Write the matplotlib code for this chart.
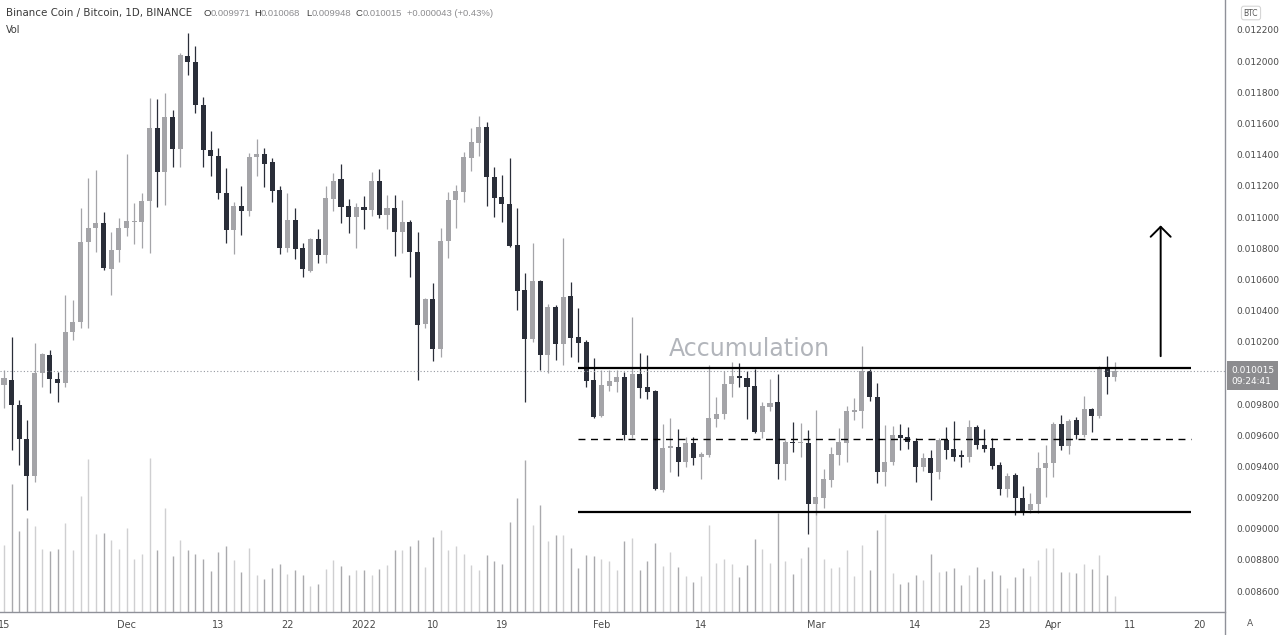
import numpy as np
import pandas as pd
import matplotlib
matplotlib.use("Agg")
import matplotlib.pyplot as plt
from matplotlib.lines import Line2D

# BNB/BTC daily candles, 2021-11-15 .. 2022-04-09
start = "2021-11-15"
open_ = [0.009922, 0.009954, 0.009794, 0.009576, 0.009338, 0.009999, 0.010115, 0.009961, 0.009935, 0.010262,
         0.010326, 0.010840, 0.010930, 0.010962, 0.010666, 0.010788, 0.010930, 0.010968, 0.010968, 0.011103,
         0.011571, 0.011289, 0.011642, 0.011436, 0.012033, 0.011995, 0.011719, 0.011430, 0.011391, 0.011154,
         0.010917, 0.011071, 0.011039, 0.011385, 0.011404, 0.011353, 0.011173, 0.010801, 0.010981, 0.010801,
         0.010654, 0.010859, 0.010756, 0.011116, 0.011244, 0.011071, 0.011000, 0.011064, 0.011045, 0.011231,
         0.011013, 0.011058, 0.010904, 0.010968, 0.010776, 0.010313, 0.010474, 0.010153, 0.010846, 0.011109,
         0.011160, 0.011379, 0.011475, 0.011578, 0.011257, 0.011128, 0.011083, 0.010820, 0.010532, 0.010217,
         0.010590, 0.010115, 0.010423, 0.010185, 0.010494, 0.010230, 0.010198, 0.009954, 0.009723, 0.009916,
         0.009942, 0.009974, 0.009601, 0.009993, 0.009909, 0.009884, 0.009248, 0.009518, 0.009524, 0.009428,
         0.009550, 0.009460, 0.009473, 0.009704, 0.009736, 0.009929, 0.009980, 0.009967, 0.009916, 0.009621,
         0.009781, 0.009813, 0.009415, 0.009556, 0.009548, 0.009550, 0.009159, 0.009197, 0.009313, 0.009473,
         0.009550, 0.009749, 0.009755, 0.010012, 0.009845, 0.009364, 0.009428, 0.009601, 0.009588, 0.009563,
         0.009396, 0.009454, 0.009364, 0.009569, 0.009511, 0.009473, 0.009460, 0.009653, 0.009537, 0.009518,
         0.009409, 0.009255, 0.009344, 0.009197, 0.009120, 0.009159, 0.009389, 0.009421, 0.009672, 0.009530,
         0.009698, 0.009601, 0.009768, 0.009723, 0.010031, 0.009971]
high = [0.010018, 0.010230, 0.009826, 0.009698, 0.010192, 0.010128, 0.010147, 0.010006, 0.010500, 0.010468,
        0.011058, 0.011250, 0.011302, 0.011032, 0.010904, 0.010994, 0.011404, 0.011090, 0.011154, 0.011764,
        0.011757, 0.011796, 0.011687, 0.012052, 0.012181, 0.012097, 0.011770, 0.011552, 0.011443, 0.011314,
        0.011096, 0.011199, 0.011411, 0.011501, 0.011443, 0.011379, 0.011199, 0.011154, 0.011058, 0.010833,
        0.010865, 0.010923, 0.011199, 0.011282, 0.011340, 0.011116, 0.011090, 0.011135, 0.011289, 0.011308,
        0.011141, 0.011141, 0.011109, 0.010981, 0.010904, 0.010481, 0.010577, 0.010930, 0.011160, 0.011206,
        0.011417, 0.011571, 0.011648, 0.011610, 0.011321, 0.011270, 0.011379, 0.011058, 0.010641, 0.010833,
        0.010596, 0.010442, 0.010436, 0.010865, 0.010583, 0.010416, 0.010211, 0.010096, 0.010018, 0.010018,
        0.010018, 0.010006, 0.010358, 0.010127, 0.010115, 0.009890, 0.009672, 0.009710, 0.009640, 0.009588,
        0.009588, 0.009492, 0.010050, 0.009845, 0.010012, 0.010070, 0.010063, 0.010012, 0.010025, 0.009813,
        0.009961, 0.009993, 0.009569, 0.009685, 0.009678, 0.009633, 0.009762, 0.009383, 0.009524, 0.009646,
        0.009787, 0.009839, 0.010172, 0.010025, 0.009935, 0.009665, 0.009659, 0.009672, 0.009653, 0.009582,
        0.009486, 0.009505, 0.009582, 0.009653, 0.009691, 0.009505, 0.009698, 0.009665, 0.009640, 0.009582,
        0.009428, 0.009357, 0.009357, 0.009274, 0.009229, 0.009492, 0.009537, 0.009685, 0.009730, 0.009704,
        0.009717, 0.009852, 0.009775, 0.010044, 0.010108, 0.010068]
low = [0.009774, 0.009505, 0.009409, 0.009120, 0.009300, 0.009909, 0.009871, 0.009813, 0.009909, 0.010211,
       0.010288, 0.010288, 0.010776, 0.010660, 0.010500, 0.010711, 0.010878, 0.010827, 0.010801, 0.010769,
       0.011064, 0.011077, 0.011321, 0.011321, 0.011911, 0.011667, 0.011321, 0.011263, 0.011116, 0.010833,
       0.010763, 0.010885, 0.011007, 0.011263, 0.011193, 0.011096, 0.010763, 0.010776, 0.010730, 0.010615,
       0.010647, 0.010705, 0.010705, 0.011039, 0.010962, 0.010898, 0.010801, 0.010923, 0.011007, 0.010994,
       0.010923, 0.010750, 0.010769, 0.010615, 0.009954, 0.010288, 0.010076, 0.010101, 0.010737, 0.010930,
       0.011096, 0.011295, 0.011391, 0.011071, 0.011000, 0.010968, 0.010808, 0.010403, 0.009813, 0.010198,
       0.010018, 0.009999, 0.010083, 0.010050, 0.010101, 0.010070, 0.009909, 0.009710, 0.009717, 0.009884,
       0.009877, 0.009569, 0.009582, 0.009839, 0.009832, 0.009248, 0.009236, 0.009363, 0.009338, 0.009396,
       0.009409, 0.009319, 0.009460, 0.009653, 0.009704, 0.009845, 0.009909, 0.009704, 0.009614, 0.009582,
       0.009755, 0.009319, 0.009313, 0.009492, 0.009460, 0.008966, 0.009088, 0.009133, 0.009268, 0.009409,
       0.009428, 0.009698, 0.009646, 0.009820, 0.009293, 0.009274, 0.009409, 0.009505, 0.009511, 0.009300,
       0.009370, 0.009184, 0.009319, 0.009447, 0.009434, 0.009396, 0.009428, 0.009511, 0.009492, 0.009383,
       0.009216, 0.009203, 0.009088, 0.009088, 0.009101, 0.009101, 0.009203, 0.009331, 0.009505, 0.009479,
       0.009576, 0.009588, 0.009620, 0.009710, 0.009864, 0.009948]
close = [0.009967, 0.009794, 0.009576, 0.009338, 0.009999, 0.010121, 0.009961, 0.009935, 0.010262, 0.010326,
         0.010840, 0.010930, 0.010962, 0.010673, 0.010788, 0.010930, 0.010975, 0.010975, 0.011103, 0.011571,
         0.011289, 0.011642, 0.011436, 0.012040, 0.011995, 0.011719, 0.011430, 0.011391, 0.011154, 0.010917,
         0.011071, 0.011039, 0.011385, 0.011404, 0.011340, 0.011167, 0.010801, 0.010981, 0.010795, 0.010666,
         0.010859, 0.010756, 0.011122, 0.011231, 0.011064, 0.011000, 0.011064, 0.011045, 0.011231, 0.011013,
         0.011058, 0.010904, 0.010968, 0.010776, 0.010307, 0.010474, 0.010153, 0.010846, 0.011109, 0.011167,
         0.011385, 0.011481, 0.011578, 0.011257, 0.011122, 0.011083, 0.010814, 0.010525, 0.010217, 0.010590,
         0.010115, 0.010423, 0.010185, 0.010487, 0.010224, 0.010192, 0.009948, 0.009717, 0.009922, 0.009948,
         0.009974, 0.009601, 0.009993, 0.009903, 0.009877, 0.009255, 0.009518, 0.009530, 0.009428, 0.009550,
         0.009454, 0.009479, 0.009710, 0.009736, 0.009929, 0.009980, 0.009967, 0.009909, 0.009621, 0.009787,
         0.009807, 0.009415, 0.009556, 0.009550, 0.009553, 0.009159, 0.009204, 0.009319, 0.009479, 0.009556,
         0.009755, 0.009762, 0.010012, 0.009845, 0.009364, 0.009428, 0.009601, 0.009582, 0.009556, 0.009396,
         0.009454, 0.009357, 0.009569, 0.009505, 0.009460, 0.009460, 0.009653, 0.009537, 0.009511, 0.009402,
         0.009255, 0.009338, 0.009197, 0.009114, 0.009159, 0.009389, 0.009421, 0.009672, 0.009530, 0.009691,
         0.009601, 0.009768, 0.009723, 0.010031, 0.009972, 0.010015]
volume = [200, 385, 242, 283, 258, 190, 182, 190, 267, 187, 348, 458, 235, 238, 217, 190, 253, 160, 173, 462,
          185, 312, 167, 216, 185, 175, 158, 122, 180, 197, 155, 120, 193, 112, 100, 132, 143, 113, 125, 110,
          77, 85, 128, 155, 137, 112, 125, 125, 112, 130, 140, 185, 185, 198, 217, 135, 225, 245, 185, 197,
          173, 140, 125, 172, 152, 145, 270, 342, 455, 262, 322, 212, 230, 230, 193, 132, 172, 167, 160, 153,
          125, 212, 223, 125, 152, 207, 137, 180, 135, 108, 90, 108, 262, 148, 160, 145, 105, 142, 218, 190,
          148, 298, 152, 115, 162, 195, 345, 158, 132, 135, 185, 108, 202, 125, 247, 295, 117, 85, 90, 112,
          95, 175, 120, 122, 132, 80, 112, 135, 100, 122, 110, 72, 105, 132, 108, 155, 192, 192, 120, 120,
          118, 143, 130, 172, 112, 48]

tick_dates = ["2021-11-15", "2021-12-01", "2021-12-13", "2021-12-22", "2022-01-01", "2022-01-10",
              "2022-01-19", "2022-02-01", "2022-02-14", "2022-03-01", "2022-03-14", "2022-03-23",
              "2022-04-01", "2022-04-11", "2022-04-20"]
tick_labels = ["15", "Dec", "13", "22", "2022", "10", "19", "Feb", "14", "Mar", "14", "23", "Apr", "11", "20"]
price_ticks = np.arange(0.0086, 0.01221, 0.0002)

# drawn annotations
resistance = 0.010034
midline = 0.009573
support = 0.009109
zone_start, zone_end = "2022-01-29", "2022-04-19"
arrow_date = "2022-04-15"
arrow_from, arrow_to = 0.010089, 0.010964

o = np.array(open_)
h = np.array(high)
l = np.array(low)
c = np.array(close)
v = np.array(volume)
dates = pd.date_range(start, periods=len(c), freq="D")
x = np.arange(len(c))


def day(d):
    return (pd.Timestamp(d) - dates[0]).days


UP, DOWN = "#a4a4a8", "#2a2e39"
W, H = 1280, 635

fig = plt.figure(figsize=(W / 100, H / 100), dpi=100)
fig.patch.set_facecolor("white")
rect = [0, 23 / H, 1225 / W, 612 / H]
ax = fig.add_axes(rect)
axv = fig.add_axes(rect, sharex=ax)
ax.set_zorder(2)
axv.set_zorder(1)
ax.patch.set_visible(False)

up = c >= o
cols = np.where(up, UP, DOWN)

# volume underlay
vcols = np.where(up, "#cfcfd1", "#a9a9ad")
axv.vlines(x, 0, v, colors=vcols, lw=1.0)
axv.set_ylim(0, 1836)
axv.axis("off")

# candles
ax.vlines(x, l, h, colors=cols, lw=0.9)
body = np.maximum(np.abs(c - o), 6.5e-6)
ax.bar(x, body, bottom=np.minimum(o, c), width=0.66, color=cols, linewidth=0)

ax.axhline(c[-1], color="#9598a1", lw=0.8, ls=(0, (1, 2)))

# range drawing
ax.hlines([resistance, support], day(zone_start), day(zone_end), color="black", lw=1.6)
ax.hlines(midline, day(zone_start), day(zone_end), color="black", lw=1.0, ls=(0, (5, 4)))
ax.annotate("", xy=(day(arrow_date), arrow_to), xytext=(day(arrow_date), arrow_from),
            arrowprops=dict(arrowstyle="->,head_length=0.4,head_width=0.4", color="black",
                            lw=1.4, mutation_scale=18))
ax.text(day("2022-02-20") + 0.3, 0.010150, "Accumulation", fontsize=17, color="#b2b5bb",
        ha="center", va="center")

ax.set_xlim(-0.52, 159.4)
ax.set_ylim(0.0084653, 0.0123925)
for s in ax.spines.values():
    s.set_visible(False)

ax.set_xticks([day(d) for d in tick_dates])
ax.set_xticklabels(tick_labels)
ax.yaxis.tick_right()
# the last-price tag hides the label next to it
shown = [p for p in price_ticks if abs(p - c[-1]) > 0.00008]
ax.set_yticks(shown)
ax.set_yticklabels([f"{p:.6f}" for p in shown])
ax.tick_params(axis="x", length=0, pad=6, labelsize=7, labelcolor="#4a4a4a")
ax.tick_params(axis="y", length=0, pad=8, labelsize=6.5, labelcolor="#4a4a4a")

# last price tag
ax.annotate(f"{c[-1]:.6f}\n09:24:41", xy=(1, c[-1]), xycoords=("axes fraction", "data"),
            xytext=(6, 5), textcoords="offset pixels", ha="left", va="top", fontsize=6.5,
            color="white", linespacing=1.35, annotation_clip=False,
            bbox=dict(boxstyle="square,pad=0.45", fc="#8c8c8f", ec="none"))

# panel separators
fig.add_artist(Line2D([1225 / W] * 2, [0, 1], color="#8f9199", lw=1.0, transform=fig.transFigure))
fig.add_artist(Line2D([0, 1225 / W], [23 / H] * 2, color="#8f9199", lw=1.0, transform=fig.transFigure))

# header
renderer = fig.canvas.get_renderer()
hy = 1 - 13 / H
fig.text(6 / W, hy, "Binance Coin / Bitcoin, 1D, BINANCE", fontsize=7.4, color="#3a3a3a", va="center")
narrow = "Liberation Sans"
chg = c[-1] - c[-2]
pieces = [("O", o[-1], 203), ("H", h[-1], 254), ("L", l[-1], 306), ("C", c[-1], 356)]
for lab, val, xp in pieces:
    t = fig.text(xp / W, hy, lab, fontsize=6.8, family=narrow, color="#3a3a3a", va="center")
    x1 = t.get_window_extent(renderer).x1
    fig.text(x1 / W, hy, f"{val:.6f}", fontsize=6.8, family=narrow, color="#8c8c8f", va="center")
fig.text(407 / W, hy, f"{chg:+.6f} ({chg / c[-2] * 100:+.2f}%)", fontsize=6.8, family=narrow,
         color="#8c8c8f", va="center")
fig.text(6 / W, 1 - 30 / H, "Vol", fontsize=7, color="#3a3a3a", va="center")

fig.text(1251 / W, 1 - 13 / H, "BTC", fontsize=5.5, color="#555555", ha="center", va="center",
         bbox=dict(boxstyle="round,pad=0.3", fc="white", ec="#d6d6d6", lw=0.8))
fig.text(1250 / W, 1 - 624 / H, "A", fontsize=6.5, color="#555555", ha="center", va="center")

fig.savefig("out.png", dpi=100, facecolor="white")
